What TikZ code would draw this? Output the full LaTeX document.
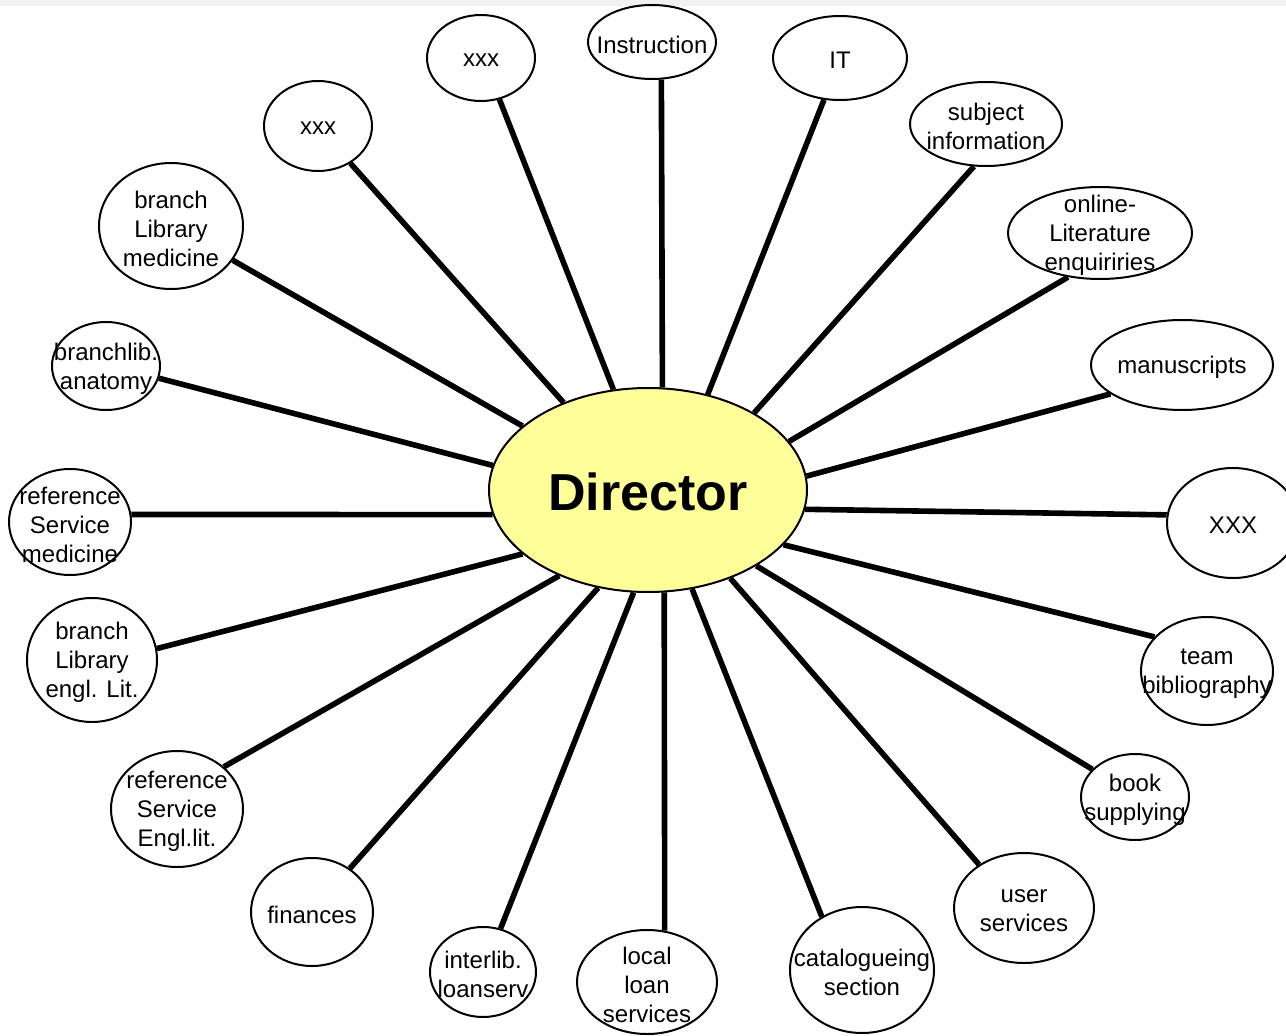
\documentclass[tikz,border=0pt]{standalone}
\usepackage{fontspec}
\setmainfont{Liberation Sans}
\usetikzlibrary{shapes.geometric}
\definecolor{diryellow}{RGB}{255,255,153}
\definecolor{topband}{RGB}{240,241,241}
\begin{document}
\begin{tikzpicture}[x=1pt,y=-1pt,
  dept/.style={ellipse, draw, line width=2pt, inner sep=0pt},
  lbl/.style={font=\fontsize{24}{29}\selectfont, align=center, inner sep=0pt, yshift=-2.5pt},
  boss/.style={font=\fontsize{52}{60}\selectfont\bfseries, inner sep=0pt, yshift=-2pt},
  spoke/.style={line width=5.6pt}]
\useasboundingbox (0,0) rectangle (1286,1036);
\fill[topband] (0,0) rectangle (1286,5.5);

\node[dept, fill=diryellow, minimum width=318pt, minimum height=204pt, label={[boss]center:Director}] (dir) at (648,490) {};

\node[dept, minimum width=128pt, minimum height=74pt, label={[lbl]center:Instruction}] (instr) at (652,42) {};
\node[dept, minimum width=108pt, minimum height=86pt, label={[lbl]center:xxx}] (xxxa) at (481,58) {};
\node[dept, minimum width=134pt, minimum height=84pt, label={[lbl]center:IT}] (it) at (840,58) {};
\node[dept, minimum width=108pt, minimum height=90pt, label={[lbl]center:xxx}] (xxxb) at (318,126) {};
\node[dept, minimum width=152pt, minimum height=84pt, label={[lbl]center:{subject\\information}}] (subj) at (986,124) {};
\node[dept, minimum width=144pt, minimum height=126pt, label={[lbl]center:{branch\\Library\\medicine}}] (blmed) at (171,226) {};
\node[dept, minimum width=184pt, minimum height=92pt, label={[lbl]center:{online-\\Literature\\enquiriries}}] (online) at (1100,233) {};
\node[dept, minimum width=108pt, minimum height=88pt, label={[lbl]center:{branchlib.\\anatomy}}] (anat) at (106,366) {};
\node[dept, minimum width=182pt, minimum height=90pt, label={[lbl]center:manuscripts}] (manu) at (1182,365) {};
\node[dept, minimum width=122pt, minimum height=106pt, label={[lbl]center:{reference\\Service\\medicine}}] (rsmed) at (70,522) {};
\node[dept, minimum width=132pt, minimum height=110pt, label={[lbl]center:XXX}] (xxxc) at (1233,523) {};
\node[dept, minimum width=130pt, minimum height=124pt, label={[lbl]center:{branch\\Library\\engl. Lit.}}] (blengl) at (92,660) {};
\node[dept, minimum width=132pt, minimum height=108pt, label={[lbl]center:{team\\bibliography}}] (team) at (1207,671) {};
\node[dept, minimum width=132pt, minimum height=116pt, label={[lbl]center:{reference\\Service\\Engl.lit.}}] (rsengl) at (177,809) {};
\node[dept, minimum width=108pt, minimum height=86pt, label={[lbl]center:{book\\supplying}}] (book) at (1135,797) {};
\node[dept, minimum width=122pt, minimum height=108pt, label={[lbl]center:finances}] (fin) at (312,912) {};
\node[dept, minimum width=140pt, minimum height=110pt, label={[lbl]center:{user\\services}}] (user) at (1024,908) {};
\node[dept, minimum width=106pt, minimum height=90pt, label={[lbl]center:{interlib.\\loanserv}}] (inter) at (483,972) {};
\node[dept, minimum width=140pt, minimum height=104pt, label={[lbl]center:{local\\loan\\services}}] (local) at (647,982) {};
\node[dept, minimum width=144pt, minimum height=126pt, label={[lbl]center:{catalogueing\\section}}] (cat) at (862,970) {};

\draw[spoke] (dir.82.7) -- (instr.-76.3);
\draw[spoke] (dir.109.7) -- (xxxa.-66.3);
\draw[spoke] (dir.58.6) -- (it.-111.3);
\draw[spoke] (dir.134.3) -- (xxxb.-49.1);
\draw[spoke] (dir.36.5) -- (subj.-106.8);
\draw[spoke] (dir.153.9) -- (blmed.-29.4);
\draw[spoke] (dir.19.8) -- (online.-126.7);
\draw[spoke] (dir.171.6) -- (anat.-13);
\draw[spoke] (dir.5.8) -- (manu.-158.7);
\draw[spoke] (dir.-171.4) -- (rsmed.7.5);
\draw[spoke] (dir.-7.9) -- (xxxc.173);
\draw[spoke] (dir.-153.6) -- (blengl.10.5);
\draw[spoke] (dir.-22.5) -- (team.147.6);
\draw[spoke] (dir.-136) -- (rsengl.42.6);
\draw[spoke] (dir.-35.6) -- (book.147.2);
\draw[spoke] (dir.-117.5) -- (fin.49.7);
\draw[spoke] (dir.-47.7) -- (user.136.3);
\draw[spoke] (dir.-98.7) -- (inter.68.4);
\draw[spoke] (dir.-81.3) -- (local.71.9);
\draw[spoke] (dir.-66) -- (cat.127.9);
\end{tikzpicture}
\end{document}
